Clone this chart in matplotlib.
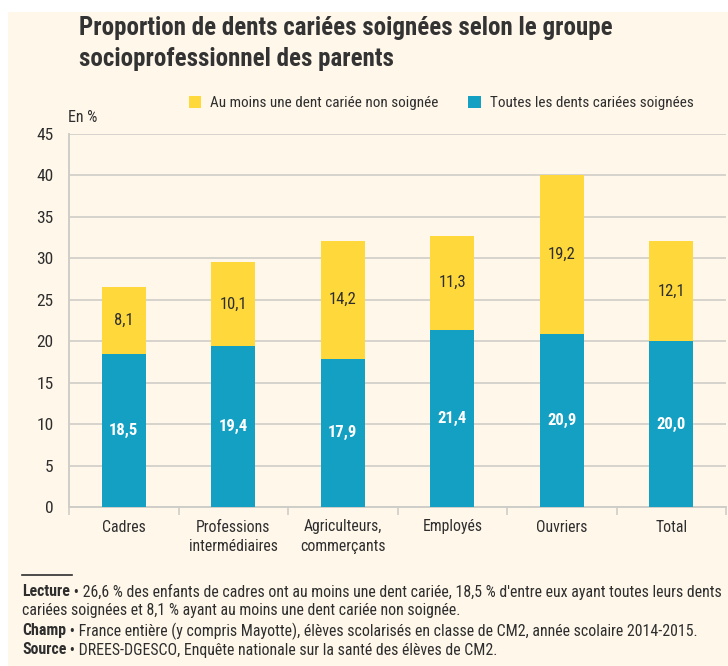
import matplotlib
matplotlib.use("Agg")
import matplotlib.pyplot as plt
from matplotlib.patches import Patch
from matplotlib import font_manager as fm

# --- data ---
categories = ["Cadres", "Professions\nintermédiaires", "Agriculteurs,\ncommerçants",
              "Employés", "Ouvriers", "Total"]
soignees = [18.5, 19.4, 17.9, 21.4, 20.9, 20.0]
non_soignees = [8.1, 10.1, 14.2, 11.3, 19.2, 12.1]
yticks = [0, 5, 10, 15, 20, 25, 30, 35, 40, 45]

title = "Proportion de dents cariées soignées selon le groupe\nsocioprofessionnel des parents"
label_yellow = "Au moins une dent cariée non soignée"
label_blue = "Toutes les dents cariées soignées"
notes = [
    ("Lecture", " • 26,6 % des enfants de cadres ont au moins une dent cariée, 18,5 % d'entre eux ayant toutes leurs dents"),
    ("", "cariées soignées et 8,1 % ayant au moins une dent cariée non soignée."),
    ("Champ", " • France entière (y compris Mayotte), élèves scolarisés en classe de CM2, année scolaire 2014-2015."),
    ("Source", " • DREES-DGESCO, Enquête nationale sur la santé des élèves de CM2."),
]

# --- style ---
BG = "#fef7ea"
BLUE = "#13a0c3"
YELLOW = "#ffd93b"
TXT = "#2e2e2e"
GRID = "#cfcdc8"

# pick a condensed sans if there is one
installed = {f.name for f in fm.fontManager.ttflist}
font = "DejaVu Sans"
for name in ["Roboto Condensed", "Archivo Narrow", "PT Sans Narrow", "Fira Sans Condensed",
             "IBM Plex Sans Condensed", "Liberation Sans Narrow", "Open Sans Condensed",
             "Asap Condensed", "Encode Sans Condensed"]:
    if name in installed:
        font = name
        break
plt.rcParams["font.family"] = [font, "DejaVu Sans"]

W, H = 728, 666
fig = plt.figure(figsize=(W / 100, H / 100), dpi=100)
fig.patch.set_facecolor("white")
# cream panel
fig.patches.append(plt.Rectangle((8 / W, 0), 1, 1 - 12 / H, transform=fig.transFigure,
                                 facecolor=BG, edgecolor="none", zorder=-10))

def fx(px):
    return px / W

def fy(py):
    return 1 - py / H

ax = fig.add_axes([fx(69), fy(507), fx(726) - fx(69), fy(134) - fy(507)])
ax.patch.set_alpha(0)

x = list(range(len(categories)))
ax.bar(x, soignees, width=0.4, color=BLUE, zorder=3)
ax.bar(x, non_soignees, width=0.4, bottom=soignees, color=YELLOW, zorder=3)

for i in x:
    ax.text(i, soignees[i] / 2, f"{soignees[i]:.1f}".replace(".", ","), ha="center",
            va="center", color="white", fontsize=12, fontweight="bold", zorder=4)
    ax.text(i, soignees[i] + non_soignees[i] / 2, f"{non_soignees[i]:.1f}".replace(".", ","),
            ha="center", va="center", color=TXT, fontsize=12, zorder=4)

ax.set_ylim(0, 45)
ax.set_xlim(-0.5, len(categories) - 0.5)
ax.set_yticks(yticks)
ax.yaxis.grid(True, color=GRID, linewidth=1.2, zorder=0)
ax.tick_params(axis="y", length=0, labelsize=12.5, labelcolor=TXT, pad=11)

ax.set_xticks(x)
ax.set_xticklabels(categories, linespacing=1.4)
ax.set_xticks([i - 0.5 for i in range(len(categories) + 1)], minor=True)
ax.tick_params(axis="x", which="major", length=0, labelsize=11.3, labelcolor=TXT, pad=9)
ax.tick_params(axis="x", which="minor", length=6, width=1.2, color=GRID, direction="out")

for s in ["top", "right"]:
    ax.spines[s].set_visible(False)
for s in ["left", "bottom"]:
    ax.spines[s].set_color(GRID)
    ax.spines[s].set_linewidth(1.4)

# title, unit, legend
fig.text(fx(79), fy(16), title, ha="left", va="top", fontsize=18, fontweight="bold",
         color="#333333", linespacing=1.35)
fig.text(fx(68), fy(118), "En %", ha="left", va="center", fontsize=11.5, color=TXT)
handles = [Patch(facecolor=YELLOW, label=label_yellow), Patch(facecolor=BLUE, label=label_blue)]
fig.legend(handles=handles, loc="center", bbox_to_anchor=(fx(441), fy(103)), ncol=2,
           frameon=False, fontsize=10.9, handlelength=0.8, handleheight=0.8,
           handletextpad=0.6, columnspacing=2.0, labelcolor=TXT)

# footnotes
fig.add_artist(plt.Line2D([fx(22), fx(72)], [fy(575), fy(575)], color=TXT, linewidth=1.2))
ys = [592, 610, 631, 650]
for (bold, rest), yy in zip(notes, ys):
    if bold:
        t = fig.text(fx(22), fy(yy), bold, ha="left", va="center", fontsize=11.4,
                     fontweight="bold", color=TXT)
        fig.add_artist(plt.Annotation(rest, xy=(1, 0.5), xycoords=t, va="center", ha="left",
                                      fontsize=11.4, color=TXT))
    else:
        fig.text(fx(22), fy(yy), rest, ha="left", va="center", fontsize=11.4, color=TXT)

fig.savefig("out.png", dpi=100, facecolor=fig.get_facecolor())
